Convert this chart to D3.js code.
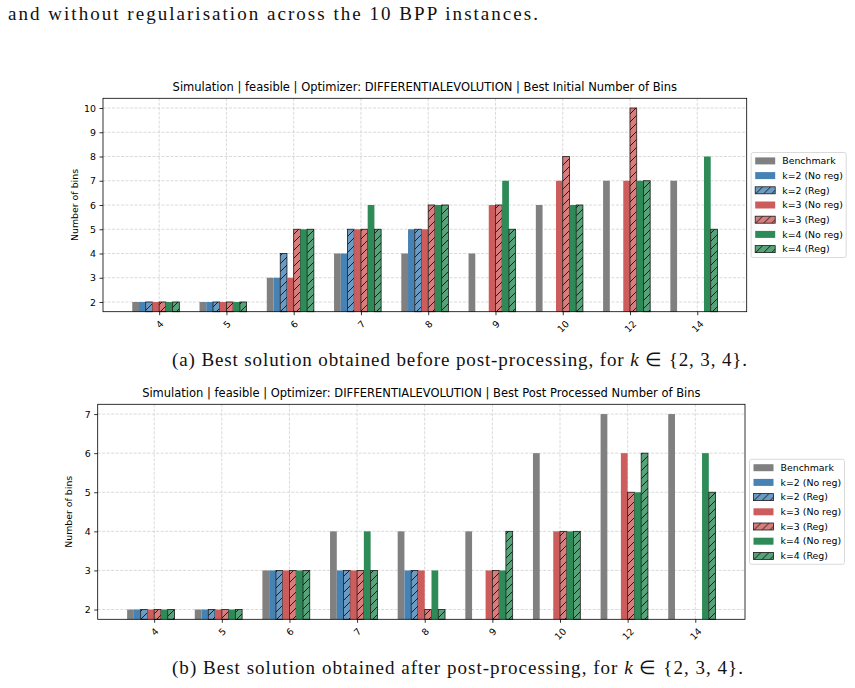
<!DOCTYPE html>
<html>
<head>
<meta charset="utf-8">
<script src="https://cdn.jsdelivr.net/npm/d3@7"></script>
<style>body{margin:0;background:#fff}</style>
</head>
<body>
<script>
const categories = ["4", "5", "6", "7", "8", "9", "10", "12", "14"];
const seriesNames = ["Benchmark", "k=2 (No reg)", "k=2 (Reg)", "k=3 (No reg)", "k=3 (Reg)", "k=4 (No reg)", "k=4 (Reg)"];

// one row per series, one value per instance; null = no bar
const initialBins = [
  [2, 2, 3, 4, 4, 4, 6, 7, 7],
  [2, 2, 3, 4, 5, null, null, null, null],
  [2, 2, 4, 5, 5, null, null, null, null],
  [2, 2, 3, 5, 5, 6, 7, 7, null],
  [2, 2, 5, 5, 6, 6, 8, 10, null],
  [2, 2, 5, 6, 6, 7, 6, 7, 8],
  [2, 2, 5, 5, 6, 5, 6, 7, 5]
];
const postBins = [
  [2, 2, 3, 4, 4, 4, 6, 7, 7],
  [2, 2, 3, 3, 3, null, null, null, null],
  [2, 2, 3, 3, 3, null, null, null, null],
  [2, 2, 3, 3, 3, 3, 4, 6, null],
  [2, 2, 3, 3, 2, 3, 4, 5, null],
  [2, 2, 3, 4, 3, 3, 4, 5, 6],
  [2, 2, 3, 3, 2, 4, 4, 6, 5]
];

const colors = ["#808080", "#4682b4", "#6b9bc3", "#cd5c5c", "#d77d7d", "#2e8b57", "#58a279"];
const hatched = [false, false, true, false, true, false, true];
const barW = 0.1;
const fs = 9.4;

const svg = d3.select("body").append("svg")
  .attr("width", 855)
  .attr("height", 688)
  .style("font-family", "'DejaVu Sans', sans-serif");

const defs = svg.append("defs");
colors.forEach((c, i) => {
  if (!hatched[i]) return;
  const p = defs.append("pattern")
    .attr("id", "hatch" + i)
    .attr("patternUnits", "userSpaceOnUse")
    .attr("width", 8).attr("height", 8);
  p.append("rect").attr("width", 8).attr("height", 8).attr("fill", c);
  p.append("path")
    .attr("d", "M-2,2L2,-2M0,8L8,0M6,10L10,6")
    .attr("stroke", "#000").attr("stroke-width", 0.8);
});
const fillOf = i => hatched[i] ? `url(#hatch${i})` : colors[i];

function drawPanel(values, box, title, ylabX) {
  const all = values.flat().filter(v => v != null);
  const lo = d3.min(all), hi = d3.max(all), pad = (hi - lo) * 0.05;
  const n = categories.length;
  const xPad = (n - 1 + 0.7) * 0.05;
  const x = d3.scaleLinear().domain([-0.4 - xPad, n - 1 + 0.3 + xPad]).range([box.x0, box.x1]);
  const y = d3.scaleLinear().domain([lo - pad, hi + pad]).range([box.y1, box.y0]);
  const yTicks = d3.range(lo, hi + 1);

  const g = svg.append("g");

  // grid
  g.selectAll(".gy").data(yTicks).join("line")
    .attr("x1", box.x0).attr("x2", box.x1)
    .attr("y1", d => y(d)).attr("y2", d => y(d))
    .attr("stroke", "#d0d0d0").attr("stroke-width", 0.8)
    .attr("stroke-dasharray", "3,1.5");
  g.selectAll(".gx").data(d3.range(n)).join("line")
    .attr("x1", d => x(d)).attr("x2", d => x(d))
    .attr("y1", box.y0).attr("y2", box.y1)
    .attr("stroke", "#d0d0d0").attr("stroke-width", 0.8)
    .attr("stroke-dasharray", "3,1.5");

  // bars
  values.forEach((row, i) => {
    g.append("g").selectAll("rect")
      .data(row.map((v, j) => ({ v, j })).filter(d => d.v != null))
      .join("rect")
      .attr("x", d => x(d.j + (i - 4) * barW))
      .attr("width", x(barW) - x(0))
      .attr("y", d => y(d.v))
      .attr("height", d => y(lo - pad) - y(d.v))
      .attr("fill", fillOf(i))
      .attr("stroke", hatched[i] ? "#1a1a1a" : "none")
      .attr("stroke-width", 0.8);
  });

  // axes
  const ya = g.append("g").attr("transform", `translate(${box.x0},0)`)
    .call(d3.axisLeft(y).tickValues(yTicks).tickFormat(d3.format("d")).tickSize(3.5).tickPadding(3.5));
  const xa = g.append("g").attr("transform", `translate(0,${box.y1})`)
    .call(d3.axisBottom(x).tickValues(d3.range(n)).tickFormat(i => categories[i]).tickSize(3.5));
  [ya, xa].forEach(a => {
    a.select(".domain").remove();
    a.selectAll("line").attr("stroke", "#000").attr("stroke-width", 0.8);
    a.selectAll("text").attr("font-size", fs).attr("font-family", "'DejaVu Sans', sans-serif").attr("fill", "#000");
  });
  xa.selectAll("text")
    .attr("y", null).attr("dy", "0.35em").attr("text-anchor", "middle")
    .attr("transform", d => {
      const len = categories[d].length * 0.636 * fs + 0.73 * fs;
      return `translate(0,${8 + len * 0.354}) rotate(-45)`;
    });

  g.append("rect")
    .attr("x", box.x0).attr("y", box.y0)
    .attr("width", box.x1 - box.x0).attr("height", box.y1 - box.y0)
    .attr("fill", "none").attr("stroke", "#000").attr("stroke-width", 0.8);

  g.append("text")
    .attr("x", (box.x0 + box.x1) / 2).attr("y", box.y0 - 7)
    .attr("text-anchor", "middle").attr("font-size", 11.5)
    .text(title);

  g.append("text")
    .attr("transform", `translate(${ylabX},${(box.y0 + box.y1) / 2}) rotate(-90)`)
    .attr("text-anchor", "middle").attr("font-size", fs)
    .text("Number of bins");

  // legend
  const cy = (box.y0 + box.y1) / 2, step = 14.7;
  const lx = box.x1 + 4.5;
  const lg = g.append("g");
  lg.append("rect")
    .attr("x", lx).attr("y", cy - 52.5).attr("width", 95).attr("height", 105).attr("rx", 2)
    .attr("fill", "#fff").attr("stroke", "#d0d0d0").attr("stroke-width", 0.8);
  const items = lg.selectAll(".it").data(seriesNames).join("g")
    .attr("transform", (d, i) => `translate(${lx},${cy + (i - 3) * step})`);
  items.append("rect")
    .attr("x", 4).attr("y", -3.5).attr("width", 20).attr("height", 7)
    .attr("fill", (d, i) => fillOf(i))
    .attr("stroke", (d, i) => hatched[i] ? "#1a1a1a" : "none").attr("stroke-width", 0.8);
  items.append("text")
    .attr("x", 31).attr("dy", "0.35em").attr("font-size", fs)
    .text(d => d);
}

drawPanel(initialBins, { x0: 103, x1: 746.7, y0: 98.3, y1: 311.7 },
  "Simulation | feasible | Optimizer: DIFFERENTIALEVOLUTION | Best Initial Number of Bins", 77.5);
drawPanel(postBins, { x0: 97.7, x1: 745, y0: 404.3, y1: 619.3 },
  "Simulation | feasible | Optimizer: DIFFERENTIALEVOLUTION | Best Post Processed Number of Bins", 72);

// document text around the figures: serif, widened a little with letter spacing
function serifLine(x, y, width, parts) {
  const t = svg.append("text")
    .attr("x", x).attr("y", y)
    .attr("font-family", "'Liberation Serif', serif")
    .attr("font-size", 19)
    .attr("fill", "#111");
  parts.forEach(p => {
    t.append("tspan").attr("font-style", p.it ? "italic" : null).text(p.s);
  });
  const w = t.node().getComputedTextLength();
  const chars = parts.map(p => p.s).join("").length;
  t.attr("letter-spacing", (width - w) / chars);
}
serifLine(8, 20, 532, [{ s: "and without regularisation across the 10 BPP instances." }]);
serifLine(172, 366, 576, [
  { s: "(a) Best solution obtained before post-processing, for " }, { s: "k", it: true }, { s: " ∈ {2, 3, 4}." }]);
serifLine(172, 674, 572, [
  { s: "(b) Best solution obtained after post-processing, for " }, { s: "k", it: true }, { s: " ∈ {2, 3, 4}." }]);
</script>
</body>
</html>
